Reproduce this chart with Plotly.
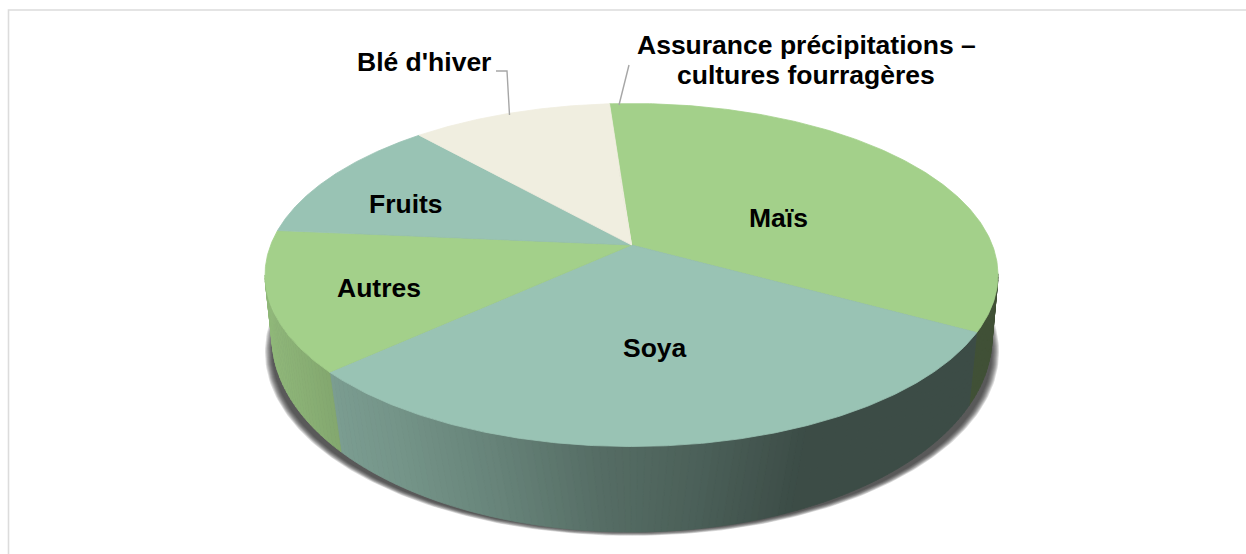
import numpy as np
import plotly.graph_objects as go

# ---- data ----
categories = ["Maïs", "Soya", "Autres", "Fruits", "Blé d'hiver", "Assurance précipitations –|cultures fourragères"]
values = [34.15, 30.2, 13.2, 12.0, 10.35, 0.1]
slice_colors = ["#a3d08a", "#99c3b4", "#a3d08a", "#99c3b4", "#f0eee0", "#f0eee0"]
label_x = [778, 655, 379, 406, 424, 806]
label_y = [218, 348, 288, 204, 62, 60]
start_angle = -4.1

# ---- view geometry ----
W, H = 1246, 554
CX, CY, A, B, P = 631.5, 275.0, 366.5, 171.5, 0.175
BCX, BCY, BA, BB = 632.0, 337.0, 360.0, 195.0
shade_x = [272, 340, 400, 500, 600, 700, 800, 1000]
shade_f = [0.88, 0.80, 0.76, 0.67, 0.56, 0.49, 0.39, 0.39]
LINE_GAP = 30


def top_uv(theta):
    u, v = np.sin(theta), np.cos(theta)
    d = 1 + P * v
    return u * np.sqrt(1 - P ** 2) / d, (v + P) / d


def top_xy(theta):
    U, V = top_uv(theta)
    return CX + A * U, CY - B * V


def bottom_xy(theta):
    U, V = top_uv(theta)
    Ub = np.sign(U) * np.abs(U) ** 1.1
    return BCX + BA * Ub, BCY + BB * np.sqrt(np.clip(1 - Ub ** 2, 0, 1))


def shade(color, f):
    r, g, b = (int(color[i:i + 2], 16) for i in (1, 3, 5))
    return f"rgb({r * f:.0f},{g * f:.0f},{b * f:.0f})"


def poly(xs, ys, color, line=True):
    fig.add_trace(go.Scatter(
        x=list(xs), y=list(ys), mode="lines", fill="toself", fillcolor=color,
        line=dict(color=color, width=0.8 if line else 0),
        hoverinfo="skip", showlegend=False))


fig = go.Figure()

# frame
fig.add_trace(go.Scatter(x=[W, 8.5, 8.5], y=[10, 10, H], mode="lines",
                         line=dict(color="#dcdcdc", width=1.6),
                         hoverinfo="skip", showlegend=False))

# soft shadow
t = np.linspace(0, 2 * np.pi, 361)
for k in [7, 6, 5, 4, 3, 2, 1, 0]:
    poly(BCX + (BA + k) * np.cos(t), 352 + (180 + 0.55 * k) * np.sin(t),
         "rgba(40,40,40,0.16)", line=False)

# slice edges
fractions = np.array(values) / sum(values)
edges = np.radians(start_angle + 360 * np.concatenate([[0], np.cumsum(fractions)]))

# side wall
for i, c in enumerate(slice_colors):
    n = max(2, int(np.degrees(edges[i + 1] - edges[i]) / 1.0))
    th = np.linspace(edges[i], edges[i + 1], n + 1)
    for a0, a1 in zip(th[:-1], th[1:]):
        if top_uv((a0 + a1) / 2)[1] > 0.0:
            continue
        x0, y0 = top_xy(a0)
        x1, y1 = top_xy(a1)
        x2, y2 = bottom_xy(a1)
        x3, y3 = bottom_xy(a0)
        f = np.interp((x0 + x1 + x2 + x3) / 4, shade_x, shade_f)
        poly([x0, x1, x2, x3, x0], [y0, y1, y2, y3, y0], shade(c, f))

# top face
apex = (CX, CY - B * P)
for i, c in enumerate(slice_colors):
    th = np.linspace(edges[i], edges[i + 1], 200)
    x, y = top_xy(th)
    poly(np.r_[apex[0], x, apex[0]], np.r_[apex[1], y, apex[1]], c, line=True)

# leader lines
for lx, ly in [([496, 507, 509.5], [71, 71, 115]), ([629, 619], [65, 105])]:
    fig.add_trace(go.Scatter(x=lx, y=ly, mode="lines", line=dict(color="#a6a6a6", width=1.4),
                             hoverinfo="skip", showlegend=False))

for name, lx, ly in zip(categories, label_x, label_y):
    parts = name.split("|")
    for j, part in enumerate(parts):
        fig.add_annotation(x=lx, y=ly + (j - (len(parts) - 1) / 2) * LINE_GAP, text=f"<b>{part}</b>",
                           showarrow=False,
                           font=dict(family="Liberation Sans", size=26.5, color="#000000"),
                           xref="x", yref="y", xanchor="center", yanchor="middle")

fig.update_layout(
    width=W, height=H, margin=dict(l=0, r=0, t=0, b=0),
    paper_bgcolor="#ffffff", plot_bgcolor="#ffffff", showlegend=False,
    xaxis=dict(range=[0, W], visible=False, fixedrange=True),
    yaxis=dict(range=[H, 0], visible=False, fixedrange=True),
)
fig.write_html("out.html", config={"displayModeBar": False},
               post_script="document.body.style.margin='0';document.body.style.overflow='hidden';")
